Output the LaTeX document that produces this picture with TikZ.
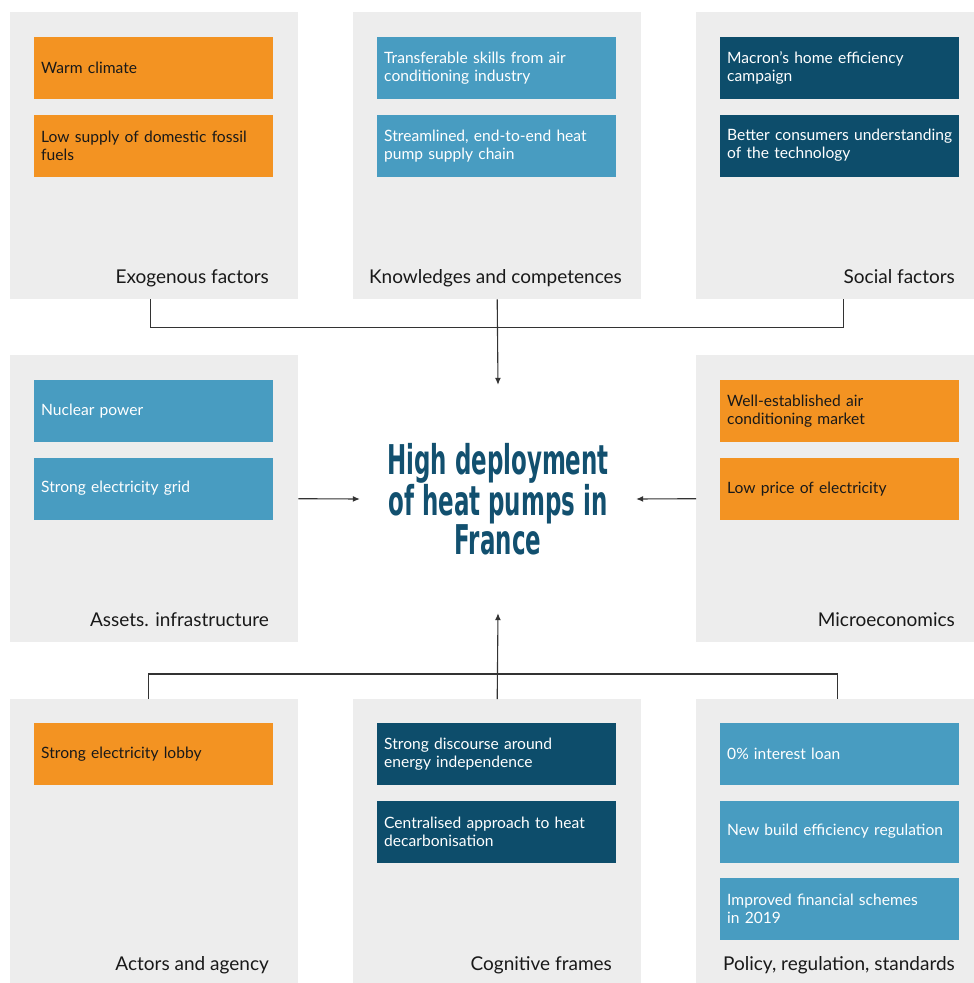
\documentclass[tikz,border=0pt]{standalone}
\usepackage{fontspec}
\setmainfont{Lato}
\newfontfamily\titlefont[FakeStretch=0.56]{DejaVu Sans}
\usepackage{xcolor}
\usepackage{tikz}
\usetikzlibrary{calc,positioning,arrows.meta}
\definecolor{panelgray}{HTML}{EDEDED}
\definecolor{orange}{HTML}{F39322}
\definecolor{lblue}{HTML}{489CC1}
\definecolor{dblue}{HTML}{0D4D6B}
\definecolor{titleblue}{HTML}{12506F}
\definecolor{linkgray}{HTML}{333333}
\tikzset{
  panel/.style={fill=panelgray, anchor=north west, minimum width=288pt, minimum height=287pt, inner sep=0pt},
  item/.style={anchor=north west, minimum width=239pt, minimum height=62pt, text width=225pt,
    inner xsep=7pt, align=left, font=\fontsize{15.6}{18}\selectfont},
  itemor/.style={item, fill=orange, text=black!90},
  itemlb/.style={item, fill=lblue, text=white},
  itemdb/.style={item, fill=dblue, text=white},
  ptitle/.style={anchor=base east, font=\fontsize{19}{22}\selectfont, text=black!90},
  goal/.style={minimum width=276pt, minimum height=228pt, align=center, text=titleblue,
    font=\titlefont\bfseries\fontsize{41}{38.5}\selectfont},
  link/.style={draw=linkgray, line width=1.1pt},
  tip/.style={-{Latex[length=7pt,width=6pt]}}
}
\begin{document}
\hyphenpenalty=10000
\begin{tikzpicture}[x=1pt,y=-1pt]
  \useasboundingbox (0,0) rectangle (974,983);

  % panels
  \node[panel] (exo)    at (10,12)   {};
  \node[panel] (know)   at (353,12)  {};
  \node[panel] (social) at (696,12)  {};
  \node[panel] (assets) at (10,355)  {};
  \node[panel] (micro)  at (696,355) {};
  \node[panel] (actors) at (10,699)  {};
  \node[panel] (cog)    at (353,699) {};
  \node[panel] (policy) at (696,699) {};

  % panel titles
  \node[ptitle] at ($(exo.south east)+(-26,-16)$)    {Exogenous factors};
  \node[ptitle] at ($(know.south east)+(-16,-16)$)   {Knowledges and competences};
  \node[ptitle] at ($(social.south east)+(-26,-16)$) {Social factors};
  \node[ptitle] at ($(assets.south east)+(-26,-16)$) {Assets. infrastructure};
  \node[ptitle] at ($(micro.south east)+(-26,-16)$)  {Microeconomics};
  \node[ptitle] at ($(actors.south east)+(-26,-16)$) {Actors and agency};
  \node[ptitle] at ($(cog.south east)+(-26,-16)$)    {Cognitive frames};
  \node[ptitle] at ($(policy.south east)+(-26,-16)$) {Policy, regulation, standards};

  % items
  \node[itemor] (exoA) at ($(exo.north west)+(24,25)$) {Warm climate};
  \node[itemor, below=15pt of exoA] (exoB) {Low supply of domestic fossil\\fuels};

  \node[itemlb] (knowA) at ($(know.north west)+(24,25)$) {Transferable skills from air\\conditioning industry};
  \node[itemlb, below=15pt of knowA] (knowB) {Streamlined, end-to-end heat\\pump supply chain};

  \node[itemdb] (socA) at ($(social.north west)+(24,25)$) {Macron's home efficiency\\campaign};
  \node[itemdb, below=15pt of socA] (socB) {Better consumers understanding\\of the technology};

  \node[itemlb] (assA) at ($(assets.north west)+(24,25)$) {Nuclear power};
  \node[itemlb, below=15pt of assA] (assB) {Strong electricity grid};

  \node[itemor] (micA) at ($(micro.north west)+(24,25)$) {Well-established air\\conditioning market};
  \node[itemor, below=15pt of micA] (micB) {Low price of electricity};

  \node[itemor] (actA) at ($(actors.north west)+(24,24)$) {Strong electricity lobby};

  \node[itemdb] (cogA) at ($(cog.north west)+(24,24)$) {Strong discourse around\\energy independence};
  \node[itemdb, below=15pt of cogA] (cogB) {Centralised approach to heat\\decarbonisation};

  \node[itemlb] (polA) at ($(policy.north west)+(24,24)$) {0\% interest loan};
  \node[itemlb, below=15pt of polA] (polB) {New build efficiency regulation};
  \node[itemlb, below=15pt of polB] (polC) {Improved financial schemes\\in 2019};

  % centre
  \node[goal] (goal) at (498,499) {High deployment\\of heat pumps in\\France};

  % connectors
  \draw[link] ([xshift=-4pt]exo.south) -- ++(0,28) -| ([xshift=3pt]social.south);
  \draw[link,tip] (know.south) -- (goal.north);
  \draw[link,tip] (assets.east) -- (goal.west);
  \draw[link,tip] (micro.west) -- (goal.east);
  \draw[link] ([xshift=-6pt]actors.north) -- ++(0,-25) -| ([xshift=-3pt]policy.north);
  \draw[link,tip] (cog.north) -- (goal.south);
\end{tikzpicture}
\end{document}
